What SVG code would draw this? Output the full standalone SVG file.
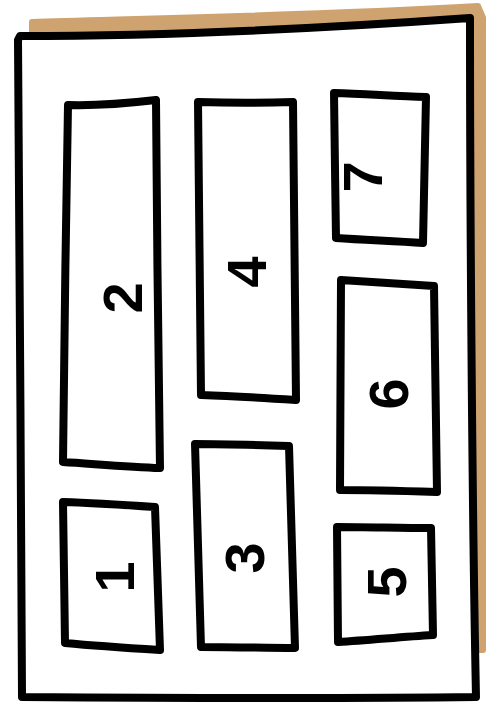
<svg xmlns="http://www.w3.org/2000/svg" width="486" height="709" viewBox="0 0 486 709">
<style>
.ln{fill:#fff;stroke:#000;stroke-width:8;stroke-linejoin:round;stroke-linecap:round}
.d{font-family:"Liberation Sans",Arial,sans-serif;font-size:56px;font-weight:bold;fill:#000;text-anchor:middle;dominant-baseline:central}
</style>
<rect width="486" height="709" fill="#fff"/>
<g id="sheet">
<path d="M32,22 C120,19 300,16 478,6 L484,20 L483,650 L470,650 L470,40 L32,40 Z" fill="#cfa36f" stroke="#cfa36f" stroke-width="6" stroke-linejoin="round"/>
<path class="ln" d="M20,36 C150,36 300,30 470,18 C470,200 472,500 476,697 C320,699 170,698 22,697 C22,500 18,200 18,40 Z"/>
</g>
<g id="node2"><path class="ln" d="M68,105 C100,106 130,103 156,100 C157,220 158,350 160,468 C130,467 95,464 63,462 C64,350 66,220 68,105 Z"/><text class="d" transform="translate(122,298) rotate(-90)">2</text></g>
<g id="node4"><path class="ln" d="M198,102 C230,103 262,103 293,102 C294,200 295,300 296,400 C265,398 232,396 201,395 C200,300 199,200 198,102 Z"/><text class="d" transform="translate(246,272) rotate(-90)">4</text></g>
<g id="node7"><path class="ln" d="M334,93 C365,94 395,96 426,97 C425,145 424,195 423,243 C394,241 365,240 336,238 C335,190 335,140 334,93 Z"/><text class="d" transform="translate(362,177) rotate(-90)">7</text></g>
<g id="node6"><path class="ln" d="M341,280 C372,282 403,284 434,286 C435,355 436,424 437,492 C405,491 372,490 340,490 C340,420 341,350 341,280 Z"/><text class="d" transform="translate(388,394) rotate(-90)">6</text></g>
<g id="node3"><path class="ln" d="M195,444 C226,444 258,445 289,446 C291,513 293,580 295,648 C264,648 232,647 201,647 C199,580 197,512 195,444 Z"/><text class="d" transform="translate(244,558) rotate(-90)">3</text></g>
<g id="node1"><path class="ln" d="M63,502 C94,503 125,505 155,507 C157,555 158,603 160,650 C128,648 97,646 65,643 C64,596 64,549 63,502 Z"/><text class="d" transform="translate(114,577) rotate(-90)">1</text></g>
<g id="node5"><path class="ln" d="M337,527 C368,527 400,528 431,528 C432,564 432,599 433,635 C401,637 370,640 338,642 C338,604 337,565 337,527 Z"/><text class="d" transform="translate(386,582) rotate(-90)">5</text></g>
<g id="connectors"/>
</svg>
